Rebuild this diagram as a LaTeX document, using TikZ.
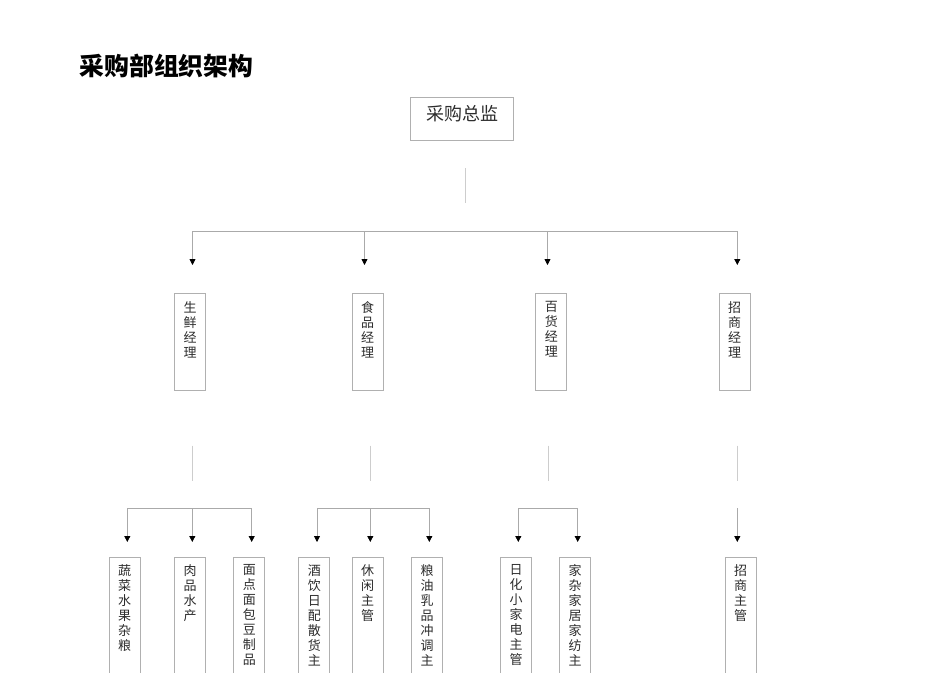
\documentclass[tikz,border=0pt]{standalone}
\usepackage{fontspec}
\newfontfamily\cjk{Noto Sans CJK SC}
\usetikzlibrary{arrows.meta}
\definecolor{boxgray}{RGB}{176,176,176}
\definecolor{linegray}{RGB}{170,170,170}
\definecolor{stubgray}{RGB}{205,205,205}
\definecolor{txtgray}{RGB}{45,45,45}
\tikzset{
  box/.style={draw=boxgray, line width=0.8pt, minimum width=31pt, inner sep=0pt, anchor=north},
  vtext/.style={font=\cjk\fontsize{13pt}{15pt}\selectfont, align=center, inner sep=0pt, anchor=north, text=txtgray},
  link/.style={draw=linegray, line width=0.8pt},
  arr/.style={link, -{Triangle[width=6pt,length=6pt,color=black]}},
  stub/.style={draw=stubgray, line width=0.8pt},
}
\begin{document}
\begin{tikzpicture}[x=1pt,y=-1pt]
\useasboundingbox (0,0) rectangle (950,672);
\clip (0,0) rectangle (950,672);
\fill[white] (0,0) rectangle (950,672);

% title
\node[anchor=west, inner sep=0pt, font=\cjk\bfseries\fontsize{24.8pt}{28pt}\selectfont] (title) at (79.5,66) {采购部组织架构};

% top box
\node[box, minimum width=103pt, minimum height=43.6pt] (dir) at (462.3,96.7) {};
\node[anchor=north, inner sep=0pt, text=txtgray, font=\cjk\fontsize{18pt}{20pt}\selectfont] (dirt) at ([yshift=-8pt]dir.north) {采购总监};

% stub under director
\coordinate (s0a) at (465.3,168.3);
\coordinate (s0b) at (465.3,203.3);
\draw[stub] (s0a) -- (s0b);

% top bar
\coordinate (b1) at (192.5,231);
\coordinate (b2) at (364.5,231);
\coordinate (b3) at (547.5,231);
\coordinate (b4) at (737.3,231);
\coordinate (t1) at (192.5,265);
\coordinate (t2) at (364.5,265);
\coordinate (t3) at (547.5,265);
\coordinate (t4) at (737.3,265);
\draw[link] (b1) -- (b4);
\foreach \i in {1,2,3,4} \draw[arr] (b\i) -- (t\i);

% managers
\node[box, minimum height=97pt] (m1) at (190,293.3) {};
\node[box, minimum height=97pt] (m2) at (367.5,293.3) {};
\node[box, minimum height=97pt] (m3) at (551.3,293.3) {};
\node[box, minimum height=97pt] (m4) at (734.7,293.3) {};
\node[vtext] (m1t) at ([yshift=-8pt]m1.north) {生\\鲜\\经\\理};
\node[vtext] (m2t) at ([yshift=-8pt]m2.north) {食\\品\\经\\理};
\node[vtext] (m3t) at ([yshift=-8pt]m3.north) {百\\货\\经\\理};
\node[vtext] (m4t) at ([yshift=-8pt]m4.north) {招\\商\\经\\理};

% stubs under managers
\coordinate (s1a) at (192.3,445.7); \coordinate (s1b) at (192.3,480.7);
\coordinate (s2a) at (370.3,445.7); \coordinate (s2b) at (370.3,480.7);
\coordinate (s3a) at (548,445.7);   \coordinate (s3b) at (548,480.7);
\coordinate (s4a) at (737.3,445.7); \coordinate (s4b) at (737.3,480.7);
\foreach \i in {1,2,3,4} \draw[stub] (s\i a) -- (s\i b);

% lower bars
\coordinate (g1a) at (127.3,508.3); \coordinate (g1b) at (192.3,508.3); \coordinate (g1c) at (251.7,508.3);
\coordinate (g2a) at (317,508.3);   \coordinate (g2b) at (370.3,508.3); \coordinate (g2c) at (429.3,508.3);
\coordinate (g3a) at (518.3,508.3); \coordinate (g3b) at (577.7,508.3);
\coordinate (g4a) at (737.3,508.3);
\draw[link] (g1a) -- (g1c);
\draw[link] (g2a) -- (g2c);
\draw[link] (g3a) -- (g3b);
\foreach \c in {g1a,g1b,g1c,g2a,g2b,g2c,g3a,g3b,g4a}
  \draw[arr] (\c) -- (\c |- 0,542);

% lower boxes
\node[box, minimum height=150pt] (l1) at (124.7,556.7) {};
\node[box, minimum height=150pt] (l2) at (190,556.7) {};
\node[box, minimum height=150pt] (l3) at (249.3,556.7) {};
\node[box, minimum height=150pt] (l4) at (314.3,556.7) {};
\node[box, minimum height=150pt] (l5) at (367.5,556.7) {};
\node[box, minimum height=150pt] (l6) at (427,556.7) {};
\node[box, minimum height=150pt] (l7) at (516,556.7) {};
\node[box, minimum height=150pt] (l8) at (575,556.7) {};
\node[box, minimum height=150pt] (l9) at (740.7,556.7) {};
\node[vtext] (l1t) at ([yshift=-8pt]l1.north) {蔬\\菜\\水\\果\\杂\\粮};
\node[vtext] (l2t) at ([yshift=-8pt]l2.north) {肉\\品\\水\\产};
\node[vtext] (l3t) at ([yshift=-8pt]l3.north) {面\\点\\面\\包\\豆\\制\\品};
\node[vtext] (l4t) at ([yshift=-8pt]l4.north) {酒\\饮\\日\\配\\散\\货\\主};
\node[vtext] (l5t) at ([yshift=-8pt]l5.north) {休\\闲\\主\\管};
\node[vtext] (l6t) at ([yshift=-8pt]l6.north) {粮\\油\\乳\\品\\冲\\调\\主};
\node[vtext] (l7t) at ([yshift=-8pt]l7.north) {日\\化\\小\\家\\电\\主\\管};
\node[vtext] (l8t) at ([yshift=-8pt]l8.north) {家\\杂\\家\\居\\家\\纺\\主};
\node[vtext] (l9t) at ([yshift=-8pt]l9.north) {招\\商\\主\\管};
\end{tikzpicture}
\end{document}
